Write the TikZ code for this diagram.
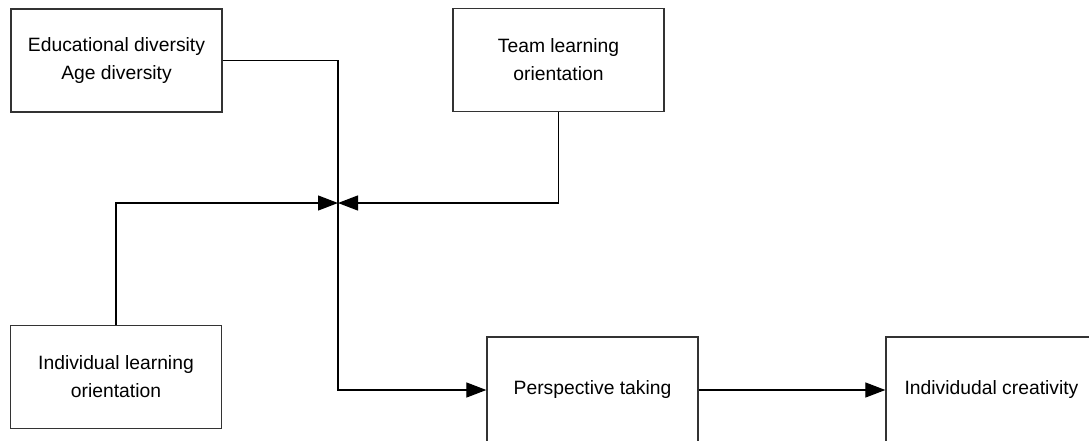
\documentclass[tikz,border=0pt]{standalone}
\usepackage{fontspec}
\setmainfont{Liberation Sans}
\usetikzlibrary{arrows.meta}
\begin{document}
\begin{tikzpicture}[x=1pt,y=-1pt,
  box/.style={draw=black!80,line width=1.3pt,minimum width=211pt,minimum height=103pt,align=center,inner sep=0pt,font=\fontsize{19.3}{28}\selectfont},
  conn/.style={draw=black,line width=1.2pt},
  arr/.style={conn,-{Triangle[length=20pt,width=15pt]}}]
\useasboundingbox (0,0) rectangle (1089,440);
\clip (0,0) rectangle (1089,440);
\fill[white] (0,0) rectangle (1089,440);
\node[box] (b1) at (116.5,60.5) {Educational diversity\\Age diversity};
\node[box] (tl) at (558.5,60) {Team learning\\orientation};
\node[box] (il) at (116,377) {Individual learning\\orientation};
\node[box,minimum height=106pt] (pt) at (592.5,390) {Perspective taking};
\node[box,minimum height=106pt] (ic) at (991.5,390) {Individudal creativity};
\coordinate (j) at (338,203);
\draw[arr] (b1.east) -| (j) |- (pt.west);
\draw[arr] (il.north) |- (j);
\draw[arr] (tl.south) |- (j);
\draw[arr] (pt.east) -- (ic.west);
\end{tikzpicture}
\end{document}
